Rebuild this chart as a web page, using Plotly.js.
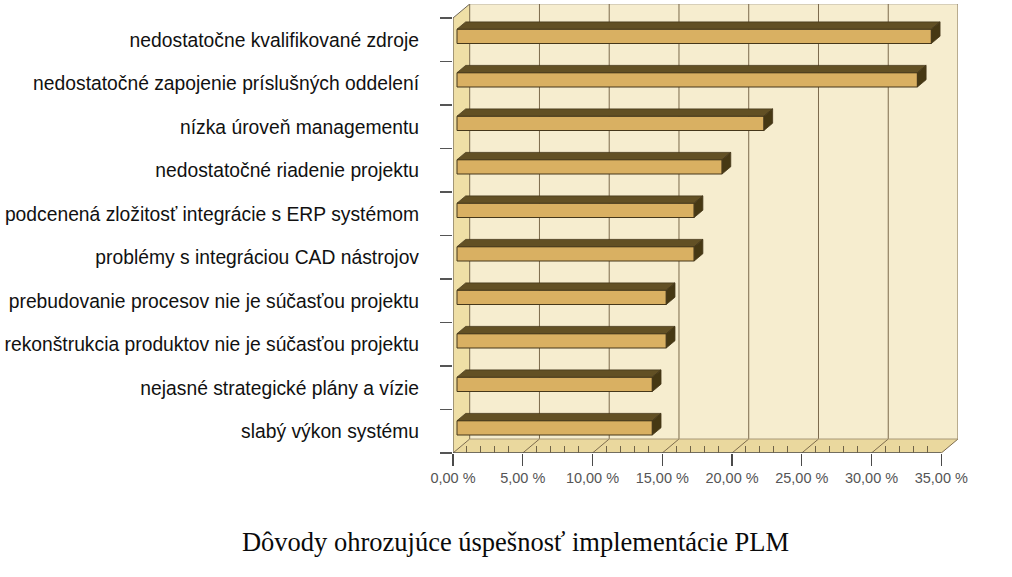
<!DOCTYPE html>
<html>
<head>
<meta charset="utf-8">
<script src="https://cdn.plot.ly/plotly-3.0.1.min.js"></script>
<style>html,body{margin:0;padding:0;background:#fff;}#chart{width:1012px;height:577px;}</style>
</head>
<body>
<div id="chart"></div>
<script>
// ---- data (top to bottom, as in the picture) ----
const categories = [
  'nedostatočne kvalifikované zdroje',
  'nedostatočné zapojenie príslušných oddelení',
  'nízka úroveň managementu',
  'nedostatočné riadenie projektu',
  'podcenená zložitosť integrácie s ERP systémom',
  'problémy s integráciou CAD nástrojov',
  'prebudovanie procesov nie je súčasťou projektu',
  'rekonštrukcia produktov nie je súčasťou projektu',
  'nejasné strategické plány a vízie',
  'slabý výkon systému'
];
const values = [34, 33, 22, 19, 17, 17, 15, 15, 14, 14];
const xTickVals = [0, 5, 10, 15, 20, 25, 30, 35];
const xTickText = ['0,00 %', '5,00 %', '10,00 %', '15,00 %', '20,00 %', '25,00 %', '30,00 %', '35,00 %'];
const chartTitle = 'Dôvody ohrozujúce úspešnosť implementácie PLM';

// ---- geometry (pixel sizes converted to axis units) ----
const W = 1012, H = 577;
const M = {l: 453, r: 54, t: 4, b: 124};
const XMAX = xTickVals[xTickVals.length - 1];
const plotW = W - M.l - M.r, plotH = H - M.t - M.b;
const WALL_DX_PX = 16.7, WALL_DY_PX = 14;
const pxPerX = (plotW - WALL_DX_PX) / XMAX;
const WDX = WALL_DX_PX / pxPerX;
const n = categories.length;
const pxPerY = (plotH - WALL_DY_PX) / n;
const WDY = WALL_DY_PX / pxPerY;
const yMin = -0.5, yTop = n - 0.5;

const BAR_SHIFT_X = 4 / pxPerX, BAR_SHIFT_Y = 3.4 / pxPerY;
const BAR_W = 14.3 / pxPerY;
const BAR_DX = 8.7 / pxPerX, BAR_DY = 7.3 / pxPerY;

const yPos = categories.map((c, i) => n - 1 - i);

const C = {
  back: '#F6EDCF', left: '#EFDFA6', floor: '#EAD89E',
  grid: '#7C6A4C', front: '#D9B062', top: '#625024', side: '#463813', edge: '#45371A'
};

const shapes = [];
shapes.push({type: 'rect', layer: 'below', x0: WDX, x1: XMAX + WDX, y0: yMin + WDY, y1: yTop + WDY,
  fillcolor: C.back, line: {width: 0}});
shapes.push({type: 'path', layer: 'below',
  path: `M0,${yMin} L${WDX},${yMin + WDY} L${WDX},${yTop + WDY} L0,${yTop} Z`,
  fillcolor: C.left, line: {width: 0}});
shapes.push({type: 'path', layer: 'below',
  path: `M0,${yMin} L${XMAX},${yMin} L${XMAX + WDX},${yMin + WDY} L${WDX},${yMin + WDY} Z`,
  fillcolor: C.floor, line: {width: 0}});
shapes.push({type: 'line', layer: 'below', x0: WDX, x1: XMAX + WDX, y0: yTop + WDY, y1: yTop + WDY,
  line: {color: '#B8B2A4', width: 1}});
xTickVals.forEach(v => {
  shapes.push({type: 'line', layer: 'below', x0: v + WDX, x1: v + WDX, y0: yMin + WDY, y1: yTop + WDY,
    line: {color: C.grid, width: 1}});
  shapes.push({type: 'line', layer: 'below', x0: v, x1: v + WDX, y0: yMin, y1: yMin + WDY,
    line: {color: C.grid, width: 1}});
});
shapes.push({type: 'line', layer: 'below', x0: WDX, x1: XMAX + WDX, y0: yMin + WDY, y1: yMin + WDY,
  line: {color: '#A89878', width: 1}});
shapes.push({type: 'line', layer: 'below', x0: 0, x1: 0, y0: yMin, y1: yTop, line: {color: '#6E6658', width: 1.2}});
shapes.push({type: 'line', layer: 'below', x0: 0, x1: WDX, y0: yTop, y1: yTop + WDY, line: {color: '#6E6658', width: 1}});
shapes.push({type: 'line', layer: 'below', x0: 0, x1: XMAX, y0: yMin, y1: yMin, line: {color: '#4A4A4A', width: 1.3}});

values.forEach((v, i) => {
  const yc = yPos[i] + BAR_SHIFT_Y;
  const y0 = yc - BAR_W / 2, y1 = yc + BAR_W / 2;
  const x0 = BAR_SHIFT_X, x1 = BAR_SHIFT_X + v;
  shapes.push({type: 'path', layer: 'above',
    path: `M${x0},${y1} L${x1},${y1} L${x1 + BAR_DX},${y1 + BAR_DY} L${x0 + BAR_DX},${y1 + BAR_DY} Z`,
    fillcolor: C.top, line: {color: C.edge, width: 0.8}});
  shapes.push({type: 'path', layer: 'above',
    path: `M${x1},${y0} L${x1},${y1} L${x1 + BAR_DX},${y1 + BAR_DY} L${x1 + BAR_DX},${y0 + BAR_DY} Z`,
    fillcolor: C.side, line: {color: C.edge, width: 0.8}});
});

const minorX = [];
for (let t = 1; t < XMAX; t++) if (t % 5 !== 0) minorX.push(t);

const trace = {
  type: 'bar', orientation: 'h',
  y: yPos.map(y => y + BAR_SHIFT_Y),
  x: values,
  base: BAR_SHIFT_X,
  width: BAR_W,
  marker: {color: C.front, line: {color: C.edge, width: 1}},
  hoverinfo: 'skip', showlegend: false
};

const layout = {
  width: W, height: H,
  margin: M,
  paper_bgcolor: '#ffffff', plot_bgcolor: '#ffffff',
  showlegend: false,
  bargap: 0,
  title: {
    text: chartTitle,
    font: {family: 'Liberation Serif, Times New Roman, serif', size: 26.5, color: '#0A0A0A'},
    xref: 'container', yref: 'container', x: 515.5 / W, xanchor: 'center',
    y: 1 - 541.5 / H, yanchor: 'middle'
  },
  xaxis: {
    range: [0, XMAX + WDX], fixedrange: true,
    showgrid: false, zeroline: false, showline: false,
    tickmode: 'array', tickvals: xTickVals, ticktext: xTickText,
    ticks: 'outside', ticklen: 12, tickwidth: 1.2, tickcolor: '#4A4A4A',
    tickfont: {family: 'Liberation Sans, Arial, sans-serif', size: 14.5, color: '#555555'},
    minor: {tickmode: 'array', tickvals: minorX, ticks: 'inside', ticklen: 7, tickwidth: 1, tickcolor: '#6E6248', showgrid: false}
  },
  yaxis: {
    range: [yMin, yTop + WDY], fixedrange: true,
    showgrid: false, zeroline: false, showline: false,
    tickmode: 'array', tickvals: yPos, ticktext: categories,
    ticks: '', ticklabelstandoff: 33,
    tickfont: {family: 'Liberation Sans, Arial, sans-serif', size: 19.3, color: '#111111'},
    minor: {tick0: -0.5, dtick: 1, ticks: 'outside', ticklen: 12, tickwidth: 1.2, tickcolor: '#555555', showgrid: false}
  },
  shapes: shapes
};

Plotly.newPlot('chart', [trace], layout, {displayModeBar: false, staticPlot: true});
</script>
</body>
</html>
